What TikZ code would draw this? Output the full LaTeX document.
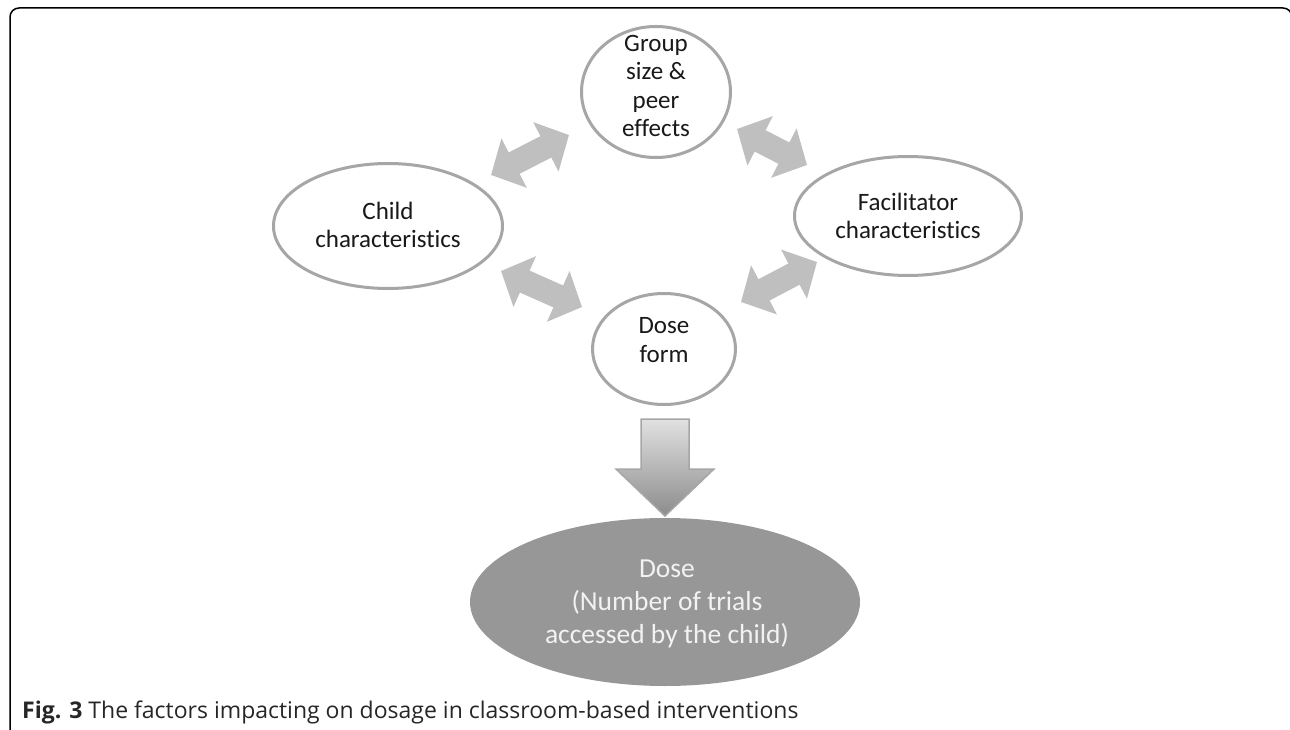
\documentclass[tikz,border=0pt]{standalone}
\usepackage{fontspec}
\setmainfont{Carlito}[Ligatures={NoCommon}]
\newfontfamily\capfont{Open Sans}
\usetikzlibrary{shapes.geometric,arrows.meta,calc}
\definecolor{ovalgray}{HTML}{A6A6A6}
\definecolor{arrgray}{HTML}{BFBFBF}
\definecolor{dosegray}{HTML}{979797}
\begin{document}
\begin{tikzpicture}[x=1pt,y=-1pt,
  oval/.style={ellipse, draw=ovalgray, line width=3pt, fill=white, inner sep=0pt},
  txt/.style={align=center, font=\fontsize{25}{28.5}\selectfont, text=black!90, inner sep=0pt},
  dbl/.style={arrgray, line width=24pt, {Triangle[width=54pt,length=26pt]}-{Triangle[width=54pt,length=26pt]}}]
\useasboundingbox (0,0) rectangle (1290,730);
\clip (0,0) rectangle (1290,730);
\draw[line width=1.5pt, rounded corners=9pt] (10,8) rectangle (1292,740);

\node[oval, minimum width=149pt, minimum height=131pt] (grp) at (656,92) {};
\node[txt] (grpt) at (656,86) {Group\\size \&\\peer\\effects};
\node[oval, minimum width=229pt, minimum height=125pt] (child) at (388,226) {};
\node[txt] (childt) at (388,225) {Child\\characteristics};
\node[oval, minimum width=227pt, minimum height=119pt] (fac) at (908,216) {};
\node[txt] (fact) at (908,216) {Facilitator\\characteristics};
\node[oval, minimum width=143pt, minimum height=111pt] (df) at (664,349) {};
\node[txt] (dft) at (664,340) {Dose\\form};
\node[ellipse, fill=dosegray, minimum width=390pt, minimum height=168pt, inner sep=0pt] (dose) at (665,602) {};
\node[txt, font=\fontsize{27.5}{33}\selectfont, text=white!95!black] (doset) at (667,604) {Dose\\(Number of trials\\accessed by the child)};

\coordinate (a1s) at (491,175); \coordinate (a1e) at (569,135);
\coordinate (a2s) at (501,271); \coordinate (a2e) at (582,307);
\coordinate (a3s) at (737,129); \coordinate (a3e) at (807,165);
\coordinate (a4s) at (741,302); \coordinate (a4e) at (817,262);
\draw[dbl] (a1s) -- (a1e);
\draw[dbl] (a2s) -- (a2e);
\draw[dbl] (a3s) -- (a3e);
\draw[dbl] (a4s) -- (a4e);

\coordinate (dtop) at (665,419);
\coordinate (dtip) at (665,516);
\shadedraw[top color=black!12, bottom color=black!45, draw=ovalgray, line width=1.5pt]
  ($(dtop)+(-24,0)$) -- ($(dtop)+(24,0)$) -- ($(dtop)+(24,50)$) -- ($(dtop)+(49,50)$)
  -- (dtip) -- ($(dtop)+(-49,50)$) -- ($(dtop)+(-24,50)$) -- cycle;

\node[anchor=base west, inner sep=0pt, font=\capfont\fontsize{23}{27}\selectfont, text=black!85] (cap) at (22,718)
  {\textbf{Fig. 3} The factors impacting on dosage in classroom-based interventions};
\end{tikzpicture}
\end{document}
